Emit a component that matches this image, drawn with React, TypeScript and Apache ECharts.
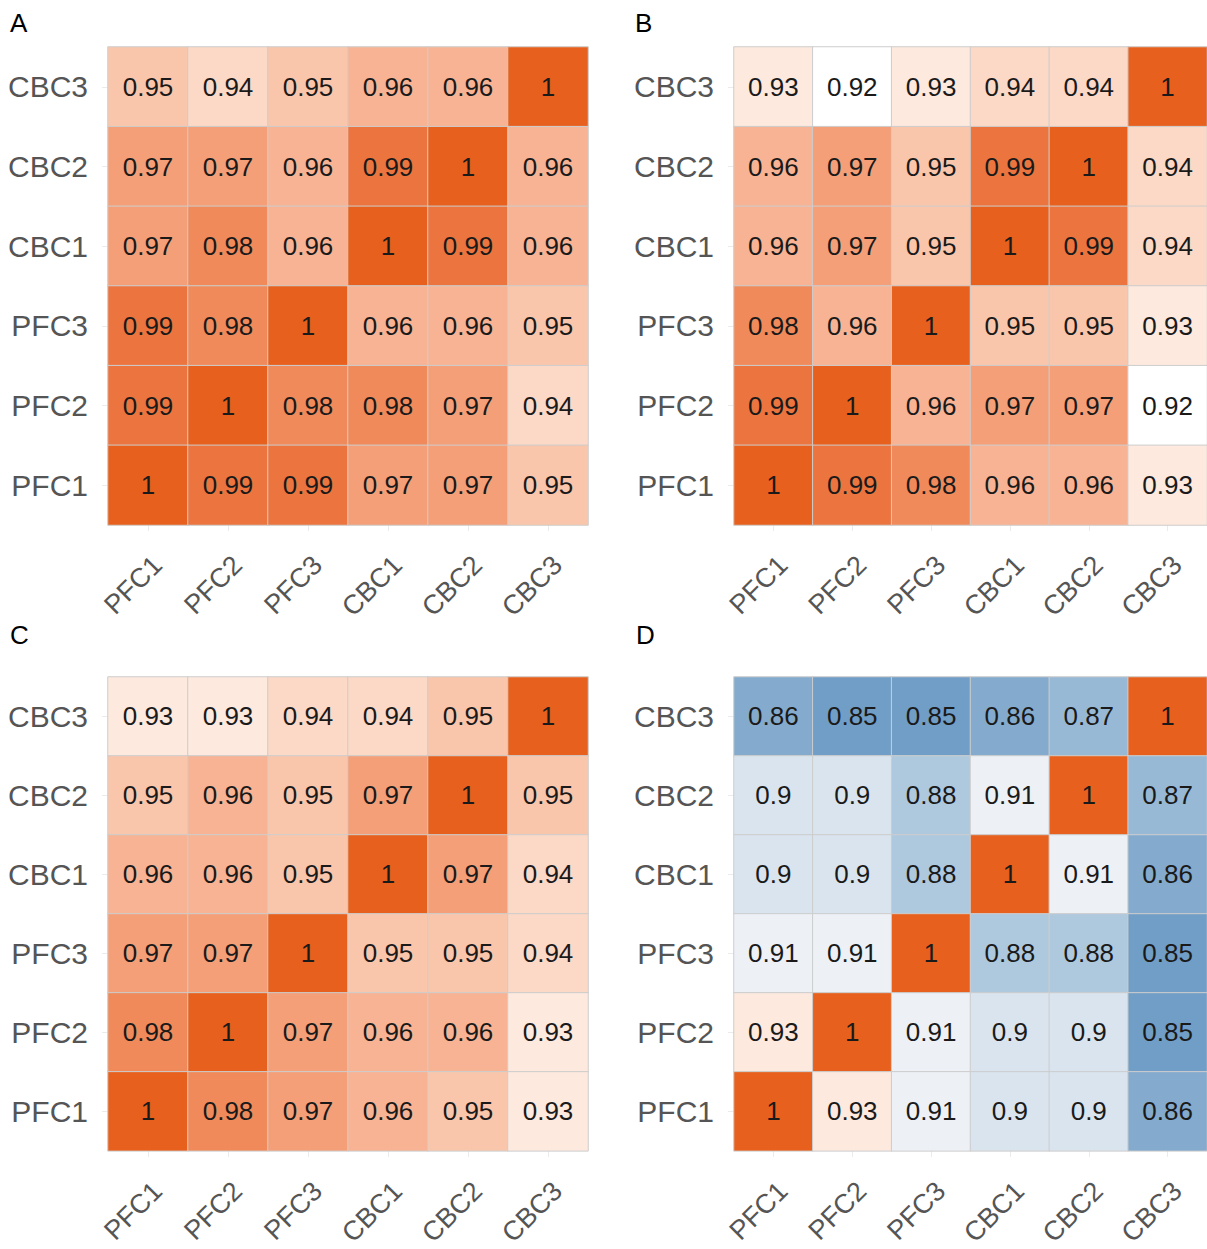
import React, { useEffect, useRef } from "react";
import * as echarts from "echarts";

// Column / row categories (y listed bottom to top, as on the axis)
const categories = ["PFC1", "PFC2", "PFC3", "CBC1", "CBC2", "CBC3"];

// Matrices as displayed, rows from top (CBC3) to bottom (PFC1)
const panelA = [
  [0.95, 0.94, 0.95, 0.96, 0.96, 1],
  [0.97, 0.97, 0.96, 0.99, 1, 0.96],
  [0.97, 0.98, 0.96, 1, 0.99, 0.96],
  [0.99, 0.98, 1, 0.96, 0.96, 0.95],
  [0.99, 1, 0.98, 0.98, 0.97, 0.94],
  [1, 0.99, 0.99, 0.97, 0.97, 0.95],
];
const panelB = [
  [0.93, 0.92, 0.93, 0.94, 0.94, 1],
  [0.96, 0.97, 0.95, 0.99, 1, 0.94],
  [0.96, 0.97, 0.95, 1, 0.99, 0.94],
  [0.98, 0.96, 1, 0.95, 0.95, 0.93],
  [0.99, 1, 0.96, 0.97, 0.97, 0.92],
  [1, 0.99, 0.98, 0.96, 0.96, 0.93],
];
const panelC = [
  [0.93, 0.93, 0.94, 0.94, 0.95, 1],
  [0.95, 0.96, 0.95, 0.97, 1, 0.95],
  [0.96, 0.96, 0.95, 1, 0.97, 0.94],
  [0.97, 0.97, 1, 0.95, 0.95, 0.94],
  [0.98, 1, 0.97, 0.96, 0.96, 0.93],
  [1, 0.98, 0.97, 0.96, 0.95, 0.93],
];
const panelD = [
  [0.86, 0.85, 0.85, 0.86, 0.87, 1],
  [0.9, 0.9, 0.88, 0.91, 1, 0.87],
  [0.9, 0.9, 0.88, 1, 0.91, 0.86],
  [0.91, 0.91, 1, 0.88, 0.88, 0.85],
  [0.93, 1, 0.91, 0.9, 0.9, 0.85],
  [1, 0.93, 0.91, 0.9, 0.9, 0.86],
];
const panelLetters = ["A", "B", "C", "D"];

// Colour scale from 0.85 to 1.00, one stop per 0.01
const scaleMin = 0.85;
const scaleMax = 1.0;
const colorStops = [
  "#719ec6", "#84abcd", "#98b9d6", "#aec8de", "#c5d6e6", "#d9e4ee",
  "#edf1f6", "#ffffff", "#fde9de", "#fcd8c6", "#fac6ab", "#f7b393",
  "#f49f78", "#f08a5a", "#ec753f", "#e8601d",
];

const FONT = "'Liberation Sans', Arial, Helvetica, sans-serif";

const panels = [panelA, panelB, panelC, panelD];
const gridPos = [
  { left: 108, top: 47 },
  { left: 734, top: 47 },
  { left: 108, top: 677 },
  { left: 734, top: 677 },
];
const letterPos = [
  { x: 10, y: 23 },
  { x: 635, y: 23 },
  { x: 10, y: 635 },
  { x: 636, y: 635 },
];

function toData(m: number[][]) {
  const out: [number, number, number][] = [];
  m.forEach((row, r) => {
    row.forEach((v, c) => {
      out.push([c, categories.length - 1 - r, v]);
    });
  });
  return out;
}

export default function App() {
  const ref = useRef<HTMLDivElement>(null);
  useEffect(() => {
    document.body.style.margin = "0";
    if (!ref.current) return;
    const chart = echarts.init(ref.current, null, { renderer: "svg" });
    const grids = gridPos.map((g) => ({ left: g.left, top: g.top, width: 480, height: 478 }));
    const xAxes = panels.map((_, i) => ({
      type: "category",
      gridIndex: i,
      data: categories,
      axisLine: { show: false },
      axisTick: { show: true, alignWithLabel: true, length: 6, lineStyle: { color: "#ebebeb" } },
      splitLine: { show: false },
      axisLabel: {
        interval: 0,
        rotate: 45,
        align: "right",
        verticalAlign: "top",
        margin: 26,
        fontSize: 27,
        color: "#555555",
        fontFamily: FONT,
      },
    }));
    const yAxes = panels.map((_, i) => ({
      type: "category",
      gridIndex: i,
      data: categories,
      axisLine: { show: false },
      axisTick: { show: true, alignWithLabel: true, length: 6, lineStyle: { color: "#ebebeb" } },
      splitLine: { show: false },
      axisLabel: {
        interval: 0,
        margin: 20,
        fontSize: 30,
        color: "#555555",
        fontFamily: FONT,
      },
    }));
    const series = panels.map((m, i) => ({
      type: "heatmap",
      xAxisIndex: i,
      yAxisIndex: i,
      data: toData(m),
      label: {
        show: true,
        fontSize: 26,
        color: "#1a1a1a",
        fontFamily: FONT,
        formatter: (p: any) => String(p.value[2]),
      },
      itemStyle: { borderColor: "#cdcdcd", borderWidth: 1 },
      emphasis: { disabled: true },
    }));
    chart.setOption({
      animation: false,
      backgroundColor: "#ffffff",
      grid: grids,
      xAxis: xAxes,
      yAxis: yAxes,
      visualMap: {
        type: "continuous",
        show: false,
        min: scaleMin,
        max: scaleMax,
        seriesIndex: [0, 1, 2, 3],
        inRange: { color: colorStops },
      },
      graphic: panelLetters.map((t, i) => ({
        type: "text",
        x: letterPos[i].x,
        y: letterPos[i].y,
        style: {
          text: t,
          fontSize: 26,
          fontFamily: FONT,
          fill: "#000000",
          textVerticalAlign: "middle",
        },
      })),
      series,
    });
    return () => chart.dispose();
  }, []);
  return <div ref={ref} style={{ width: 1207, height: 1249 }} />;
}
